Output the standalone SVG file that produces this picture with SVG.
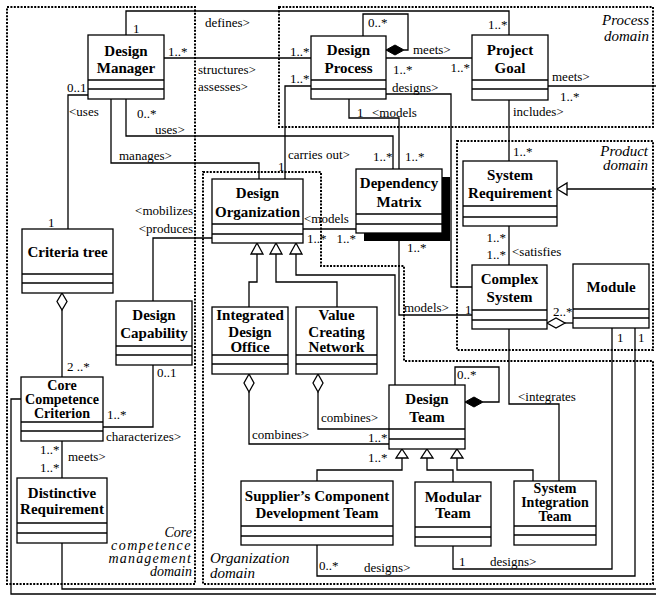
<svg xmlns="http://www.w3.org/2000/svg" width="656" height="597" viewBox="0 0 656 597">
<style>
.bx{fill:#fff;stroke:#000;stroke-width:1.3}
.cp{stroke:#000;stroke-width:1.3}
.ln{fill:none;stroke:#000;stroke-width:1.3}
.dom{fill:none;stroke:#000;stroke-width:2;stroke-dasharray:2 1.4}
.gen{fill:#fff;stroke:#000;stroke-width:1.3}
.agg{fill:#fff;stroke:#000;stroke-width:1.3}
.cmp{fill:#000;stroke:#000;stroke-width:1}
.t{font-family:"Liberation Serif","Times New Roman",serif;font-weight:bold;font-size:15px;text-anchor:middle;fill:#000}
.s{font-size:14px}
.l{font-family:"Liberation Serif","Times New Roman",serif;font-size:13px;fill:#000}
.d{font-family:"Liberation Serif","Times New Roman",serif;font-size:15px;font-style:italic;fill:#000}
.c{font-size:14px}
</style>
<rect width="656" height="597" fill="#fff"/>

<g id="domains">
<rect class="dom" x="7" y="7" width="188" height="577"/>
<rect class="dom" x="279" y="7" width="374" height="120"/>
<rect class="dom" x="457" y="141" width="196" height="209"/>
<polygon class="dom" points="203,172 321,172 321,266 404,266 404,361 653,361 653,584 203,584"/>
<text class="d" x="649" y="25" text-anchor="end">Process</text>
<text class="d" x="649" y="41" text-anchor="end">domain</text>
<text class="d" x="648" y="156" text-anchor="end">Product</text>
<text class="d" x="648" y="170" text-anchor="end">domain</text>
<text class="d c" x="192" y="537" text-anchor="end">Core</text>
<text class="d c" x="192" y="550" text-anchor="end" letter-spacing="1.5">competence</text>
<text class="d c" x="192" y="563" text-anchor="end" letter-spacing="1.2">management</text>
<text class="d c" x="192" y="576" text-anchor="end">domain</text>
<text class="d" x="210" y="563">Organization</text>
<text class="d" x="210" y="578">domain</text>
</g>

<g id="connectors">
<polyline class="ln" points="126,35 126,11 509,11 509,35"/>
<text class="l" x="133" y="33">1</text>
<text class="l" x="205" y="27">defines&gt;</text>
<text class="l" x="488" y="29">1..*</text>
<line class="ln" x1="164" y1="58" x2="311" y2="58"/>
<text class="l" x="168" y="56">1..*</text>
<text class="l" x="290" y="56">1..*</text>
<text class="l" x="198" y="74">structures&gt;</text>
<text class="l" x="198" y="91">assesses&gt;</text>
<polyline class="ln" points="311,86 285,86 285,179"/>
<text class="l" x="290" y="83">1..*</text>
<text class="l" x="278" y="171">1</text>
<text class="l" x="288" y="159">carries out&gt;</text>
<polyline class="ln" points="126,99 126,136 393,136 393,169"/>
<text class="l" x="137" y="118">0..*</text>
<text class="l" x="155" y="134">uses&gt;</text>
<text class="l" x="373" y="161">1..*</text>
<polyline class="ln" points="111,99 111,163 259,163 259,179"/>
<text class="l" x="119" y="160">manages&gt;</text>
<polyline class="ln" points="88,95 68,95 68,229"/>
<text class="l" x="67" y="92">0..1</text>
<text class="l" x="69" y="116">&lt;uses</text>
<text class="l" x="48" y="227">1</text>
<polyline class="ln" points="363,36 363,14 408,14 408,50 404,50"/>
<polygon class="cmp" points="386,50 395,45 404,50 395,55"/>
<text class="l" x="368" y="27">0..*</text>
<line class="ln" x1="386" y1="58" x2="472" y2="58"/>
<text class="l" x="413" y="54">meets&gt;</text>
<text class="l" x="393" y="74">1..*</text>
<text class="l" x="470" y="72" text-anchor="end">1..*</text>
<polyline class="ln" points="386,94 451,94 451,287 472,287"/>
<text class="l" x="392" y="92">designs&gt;</text>
<polyline class="ln" points="349,99 349,118 399,118 399,169"/>
<text class="l" x="357" y="117">1</text>
<text class="l" x="372" y="117">&lt;models</text>
<text class="l" x="405" y="161">1..*</text>
<line class="ln" x1="548" y1="86" x2="656" y2="86"/>
<text class="l" x="552" y="81">meets&gt;</text>
<text class="l" x="560" y="101">1..*</text>
<line class="ln" x1="509" y1="100" x2="509" y2="161"/>
<text class="l" x="513" y="116">includes&gt;</text>
<text class="l" x="513" y="156">1..*</text>
<line class="ln" x1="566" y1="189" x2="656" y2="189"/>
<polygon class="gen" points="557,189 567,183 567,195"/>
<line class="ln" x1="509" y1="226" x2="509" y2="265"/>
<text class="l" x="506" y="242" text-anchor="end">1..*</text>
<text class="l" x="506" y="259" text-anchor="end">1..*</text>
<text class="l" x="512" y="256">&lt;satisfies</text>
<line class="ln" x1="565" y1="323" x2="573" y2="323"/>
<polygon class="agg" points="547,323 556,318 565,323 556,328"/>
<text class="l" x="553" y="316">2..*</text>
<line class="ln" x1="303" y1="229" x2="356" y2="229"/>
<text class="l" x="304" y="223">&lt;models</text>
<text class="l" x="307" y="243">1..*</text>
<text class="l" x="356" y="243" text-anchor="end">1..*</text>
<polyline class="ln" points="399,241 399,315 472,315"/>
<text class="l" x="407" y="252">1..*</text>
<text class="l" x="404" y="312">models&gt;</text>
<text class="l" x="465" y="314">1</text>
<polyline class="ln" points="257,254 257,282 249,282 249,307"/>
<polyline class="ln" points="276,254 276,282 337,282 337,307"/>
<polyline class="ln" points="296,254 296,275 395,275 395,385"/>
<polygon class="gen" points="257,243 263,254 251,254"/>
<polygon class="gen" points="276,243 282,254 270,254"/>
<polygon class="gen" points="296,243 302,254 290,254"/>
<polyline class="ln" points="212,238 153,238 153,301"/>
<text class="l" x="193" y="215" text-anchor="end">&lt;mobilizes</text>
<text class="l" x="193" y="233" text-anchor="end">&lt;produces</text>
<polyline class="ln" points="153,365 153,427 103,427"/>
<text class="l" x="157" y="377">0..1</text>
<text class="l" x="107" y="419">1..*</text>
<text class="l" x="106" y="441">characterizes&gt;</text>
<line class="ln" x1="62" y1="310" x2="62" y2="377"/>
<polygon class="agg" points="62,293 67,301.5 62,310 57,301.5"/>
<text class="l" x="67" y="371">2 ..*</text>
<line class="ln" x1="62" y1="441" x2="62" y2="478"/>
<text class="l" x="40" y="454">1..*</text>
<text class="l" x="40" y="472">1..*</text>
<text class="l" x="68" y="461">meets&gt;</text>
<polyline class="ln" points="21,399 11,399 11,594 656,594"/>
<polyline class="ln" points="62,543 62,589 656,589"/>
<polyline class="ln" points="249,392 249,444 389,444"/>
<polygon class="agg" points="249,374 254,383 249,392 244,383"/>
<text class="l" x="252" y="439">combines&gt;</text>
<polyline class="ln" points="318,392 318,429 389,429"/>
<polygon class="agg" points="318,374 323,383 318,392 313,383"/>
<text class="l" x="321" y="422">combines&gt;</text>
<text class="l" x="368" y="442">1..*</text>
<polyline class="ln" points="455,385 455,367 499,367 499,402 483,402"/>
<polygon class="cmp" points="465,402 474,397 483,402 474,407"/>
<text class="l" x="457" y="379">0..*</text>
<polyline class="ln" points="402,458 402,470 317,470 317,481"/>
<polyline class="ln" points="427,458 427,470 453,470 453,482"/>
<polyline class="ln" points="457,458 457,470 533,470 533,481"/>
<polygon class="gen" points="402,449 408,458 396,458"/>
<polygon class="gen" points="427,449 433,458 421,458"/>
<polygon class="gen" points="457,449 463,458 451,458"/>
<text class="l" x="368" y="462">1..*</text>
<polyline class="ln" points="509,329 509,404 559,404 559,481"/>
<text class="l" x="518" y="401">&lt;integrates</text>
<polyline class="ln" points="453,546 453,569 612,569 612,328"/>
<text class="l" x="459" y="566">1</text>
<text class="l" x="490" y="566">designs&gt;</text>
<text class="l" x="617" y="342">1</text>
<polyline class="ln" points="317,545 317,576 635,576 635,328"/>
<text class="l" x="319" y="570">0..*</text>
<text class="l" x="364" y="572">designs&gt;</text>
<text class="l" x="638" y="342">1</text>
</g>

<g id="design-manager">
<rect class="bx" x="88" y="35" width="76" height="64"/>
<line class="cp" x1="88" y1="80" x2="164" y2="80"/><line class="cp" x1="88" y1="89" x2="164" y2="89"/>
<text class="t" x="126" y="56">Design</text><text class="t" x="126" y="73">Manager</text>
</g>
<g id="design-process">
<rect class="bx" x="311" y="36" width="75" height="63"/>
<line class="cp" x1="311" y1="80" x2="386" y2="80"/><line class="cp" x1="311" y1="89" x2="386" y2="89"/>
<text class="t" x="348.5" y="55">Design</text><text class="t" x="348.5" y="73">Process</text>
</g>
<g id="project-goal">
<rect class="bx" x="472" y="35" width="76" height="65"/>
<line class="cp" x1="472" y1="80" x2="548" y2="80"/><line class="cp" x1="472" y1="89" x2="548" y2="89"/>
<text class="t" x="510" y="55">Project</text><text class="t" x="510" y="73">Goal</text>
</g>
<g id="criteria-tree">
<rect class="bx" x="22" y="229" width="91" height="64"/>
<line class="cp" x1="22" y1="274" x2="113" y2="274"/><line class="cp" x1="22" y1="283" x2="113" y2="283"/>
<text class="t" x="67.5" y="257">Criteria tree</text>
</g>
<g id="design-organization">
<rect class="bx" x="212" y="179" width="91" height="64"/>
<line class="cp" x1="212" y1="224" x2="303" y2="224"/><line class="cp" x1="212" y1="234" x2="303" y2="234"/>
<text class="t" x="257.5" y="198">Design</text><text class="t" x="257.5" y="217">Organization</text>
</g>
<g id="dependency-matrix">
<rect x="364" y="177" width="86" height="64" fill="#000"/>
<rect class="bx" x="356" y="169" width="86" height="64"/>
<line class="cp" x1="356" y1="214" x2="442" y2="214"/><line class="cp" x1="356" y1="224" x2="442" y2="224"/>
<text class="t" x="399" y="188">Dependency</text><text class="t" x="399" y="207">Matrix</text>
</g>
<g id="system-requirement">
<rect class="bx" x="463" y="161" width="94" height="65"/>
<line class="cp" x1="463" y1="206" x2="557" y2="206"/><line class="cp" x1="463" y1="217" x2="557" y2="217"/>
<text class="t" x="510" y="180">System</text><text class="t" x="510" y="198">Requirement</text>
</g>
<g id="design-capability">
<rect class="bx" x="116" y="301" width="76" height="64"/>
<line class="cp" x1="116" y1="346" x2="192" y2="346"/><line class="cp" x1="116" y1="355" x2="192" y2="355"/>
<text class="t" x="154" y="320">Design</text><text class="t" x="154" y="338">Capability</text>
</g>
<g id="complex-system">
<rect class="bx" x="472" y="265" width="75" height="64"/>
<line class="cp" x1="472" y1="310" x2="547" y2="310"/><line class="cp" x1="472" y1="320" x2="547" y2="320"/>
<text class="t" x="509.5" y="284">Complex</text><text class="t" x="509.5" y="302">System</text>
</g>
<g id="module">
<rect class="bx" x="573" y="264" width="76" height="64"/>
<line class="cp" x1="573" y1="309" x2="649" y2="309"/><line class="cp" x1="573" y1="318" x2="649" y2="318"/>
<text class="t" x="611" y="292">Module</text>
</g>
<g id="integrated-design-office">
<rect class="bx" x="212" y="307" width="76" height="67"/>
<line class="cp" x1="212" y1="355" x2="288" y2="355"/><line class="cp" x1="212" y1="364" x2="288" y2="364"/>
<text class="t" x="250" y="320">Integrated</text><text class="t" x="250" y="337">Design</text><text class="t" x="250" y="352">Office</text>
</g>
<g id="value-creating-network">
<rect class="bx" x="296" y="307" width="81" height="67"/>
<line class="cp" x1="296" y1="355" x2="377" y2="355"/><line class="cp" x1="296" y1="364" x2="377" y2="364"/>
<text class="t" x="336.5" y="320">Value</text><text class="t" x="336.5" y="337">Creating</text><text class="t" x="336.5" y="352">Network</text>
</g>
<g id="core-competence-criterion">
<rect class="bx" x="21" y="377" width="82" height="64"/>
<line class="cp" x1="21" y1="422" x2="103" y2="422"/><line class="cp" x1="21" y1="431" x2="103" y2="431"/>
<text class="t s" x="62" y="390">Core</text><text class="t s" x="62" y="404">Competence</text><text class="t s" x="62" y="418">Criterion</text>
</g>
<g id="distinctive-requirement">
<rect class="bx" x="17" y="478" width="90" height="65"/>
<line class="cp" x1="17" y1="523" x2="107" y2="523"/><line class="cp" x1="17" y1="533" x2="107" y2="533"/>
<text class="t" x="62" y="498">Distinctive</text><text class="t" x="62" y="514">Requirement</text>
</g>
<g id="design-team">
<rect class="bx" x="389" y="385" width="76" height="64"/>
<line class="cp" x1="389" y1="429" x2="465" y2="429"/><line class="cp" x1="389" y1="439" x2="465" y2="439"/>
<text class="t" x="427" y="404">Design</text><text class="t" x="427" y="422">Team</text>
</g>
<g id="suppliers-component-development-team">
<rect class="bx" x="241" y="481" width="152" height="64"/>
<line class="cp" x1="241" y1="526" x2="393" y2="526"/><line class="cp" x1="241" y1="536" x2="393" y2="536"/>
<text class="t" x="317" y="501">Supplier’s Component</text><text class="t" x="317" y="518">Development Team</text>
</g>
<g id="modular-team">
<rect class="bx" x="415" y="482" width="76" height="64"/>
<line class="cp" x1="415" y1="527" x2="491" y2="527"/><line class="cp" x1="415" y1="537" x2="491" y2="537"/>
<text class="t" x="453" y="502">Modular</text><text class="t" x="453" y="518">Team</text>
</g>
<g id="system-integration-team">
<rect class="bx" x="514" y="481" width="82" height="64"/>
<line class="cp" x1="514" y1="526" x2="596" y2="526"/><line class="cp" x1="514" y1="535" x2="596" y2="535"/>
<text class="t s" x="555" y="493">System</text><text class="t s" x="555" y="507">Integration</text><text class="t s" x="555" y="521">Team</text>
</g>
</svg>
